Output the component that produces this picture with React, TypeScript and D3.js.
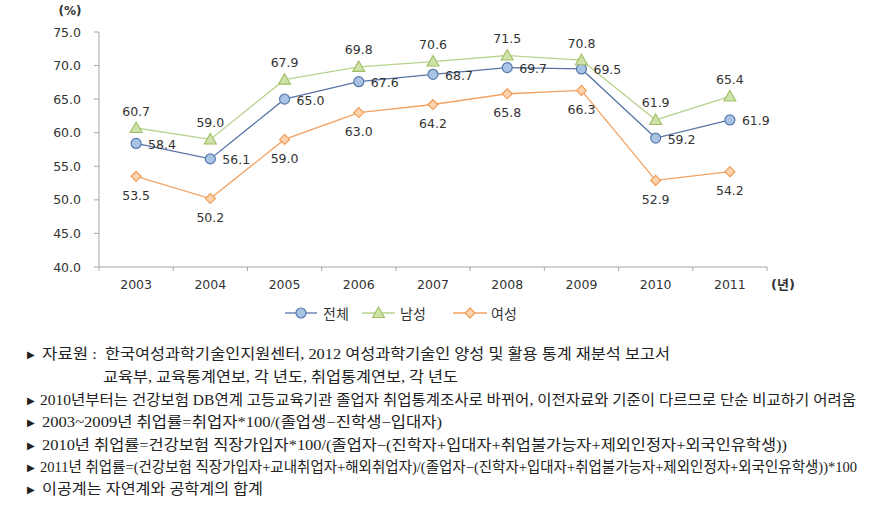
import React from "react";
import * as d3 from "d3";

const years = ["2003", "2004", "2005", "2006", "2007", "2008", "2009", "2010", "2011"];
const total = [58.4, 56.1, 65.0, 67.6, 68.7, 69.7, 69.5, 59.2, 61.9];
const male = [60.7, 59.0, 67.9, 69.8, 70.6, 71.5, 70.8, 61.9, 65.4];
const female = [53.5, 50.2, 59.0, 63.0, 64.2, 65.8, 66.3, 52.9, 54.2];
const yTicks = [40, 45, 50, 55, 60, 65, 70, 75];
const seriesNames = ["전체", "남성", "여성"];

const noteSourceLabel = "자료원 :";
const notes = [
  "한국여성과학기술인지원센터, 2012 여성과학기술인 양성 및 활용 통계 재분석 보고서",
  "교육부, 교육통계연보, 각 년도, 취업통계연보, 각 년도",
  "2010년부터는 건강보험 DB연계 고등교육기관 졸업자 취업통계조사로 바뀌어, 이전자료와 기준이 다르므로 단순 비교하기 어려움",
  "2003~2009년 취업률=취업자*100/(졸업생−진학생−입대자)",
  "2010년 취업률=건강보험 직장가입자*100/(졸업자−(진학자+입대자+취업불가능자+제외인정자+외국인유학생))",
  "2011년 취업률=(건강보험 직장가입자+교내취업자+해외취업자)/(졸업자−(진학자+입대자+취업불가능자+제외인정자+외국인유학생))*100",
  "이공계는 자연계와 공학계의 합계",
];

const W = 873;
const H = 511;
const sans = "'DejaVu Sans', 'Noto Sans CJK KR', sans-serif";
const serif = "'Liberation Serif', 'Noto Sans CJK KR', serif";

const styles = [
  { line: "#5873a8", fill: "#a9c3e3", stroke: "#5679ad", shape: "circle", lab: "right" },
  { line: "#b9d38f", fill: "#cfe2a9", stroke: "#9fbf63", shape: "triangle", lab: "above" },
  { line: "#f2a262", fill: "#fcd3ae", stroke: "#f0964c", shape: "diamond", lab: "below" },
];

function Marker({ shape, x, y, fill, stroke }: any) {
  if (shape === "circle") return <circle cx={x} cy={y} r={5} fill={fill} stroke={stroke} strokeWidth={1.2} />;
  if (shape === "triangle")
    return <path d={`M${x},${y - 6}L${x + 6},${y + 4.5}L${x - 6},${y + 4.5}Z`} fill={fill} stroke={stroke} strokeWidth={1.1} />;
  return <path d={`M${x},${y - 5}L${x + 5},${y}L${x},${y + 5}L${x - 5},${y}Z`} fill={fill} stroke={stroke} strokeWidth={1.1} />;
}

export default function App() {
  const x = d3.scaleBand<string>().domain(years).range([99, 767]).padding(0);
  const y = d3.scaleLinear().domain([40, 75]).range([267, 32]);
  const cx = (yr: string) => (x(yr) as number) + x.bandwidth() / 2;
  const data = [total, male, female];
  const line = d3
    .line<number>()
    .x((_, i) => cx(years[i]))
    .y((d) => y(d));

  const noteYs = [354, 377, 400, 422, 445, 467, 489];
  const noteX = [[105, 670], [103, 458], [40, 856], [42, 442], [42, 787], [40, 857], [42, 263]];
  const bullets = [0, 2, 3, 4, 5, 6];

  const legendItems = [
    { x0: 285, x1: 317, tx: 323 },
    { x0: 362, x1: 395, tx: 400 },
    { x0: 453, x1: 487, tx: 491 },
  ];

  return (
    <svg width={W} height={H} style={{ display: "block", position: "absolute", left: 0, top: 0, background: "#fff" }}>
      <rect width={W} height={H} fill="#fff" />
      {/* y axis */}
      <line x1={99} x2={99} y1={y(75)} y2={y(40)} stroke="#a6a6a6" />
      {yTicks.map((t) => (
        <g key={t}>
          <line x1={94} x2={99} y1={y(t)} y2={y(t)} stroke="#a6a6a6" />
          <text x={81} y={y(t)} textAnchor="end" dominantBaseline="central" fontFamily={sans} fontSize={12.5} fill="#333">
            {t.toFixed(1)}
          </text>
        </g>
      ))}
      <text x={70} y={11} textAnchor="middle" dominantBaseline="central" fontFamily={sans} fontSize={12} fontWeight="bold" fill="#333">
        (%)
      </text>
      {/* x axis */}
      <line x1={99} x2={767} y1={y(40)} y2={y(40)} stroke="#a6a6a6" />
      {years.map((yr) => (
        <line key={"t" + yr} x1={x(yr) as number} x2={x(yr) as number} y1={y(40)} y2={y(40) + 4} stroke="#a6a6a6" />
      ))}
      <line x1={767} x2={767} y1={y(40)} y2={y(40) + 4} stroke="#a6a6a6" />
      {years.map((yr) => (
        <text key={yr} x={cx(yr)} y={284} textAnchor="middle" dominantBaseline="central" fontFamily={sans} fontSize={12.5} fill="#333">
          {yr}
        </text>
      ))}
      <text x={783} y={284} textAnchor="middle" dominantBaseline="central" fontFamily={sans} fontSize={13} fontWeight="bold" fill="#333">
        (년)
      </text>
      {/* series */}
      {data.map((vals, si) => (
        <path key={"l" + si} d={line(vals) as string} fill="none" stroke={styles[si].line} strokeWidth={1.3} />
      ))}
      {data.map((vals, si) =>
        vals.map((v, i) => (
          <Marker key={"m" + si + i} shape={styles[si].shape} x={cx(years[i])} y={y(v)} fill={styles[si].fill} stroke={styles[si].stroke} />
        ))
      )}
      {data.map((vals, si) =>
        vals.map((v, i) => {
          const s = styles[si];
          const px = cx(years[i]);
          const py = y(v);
          const lx = s.lab === "right" ? px + 12 : px;
          const ly = s.lab === "above" ? py - 17 : s.lab === "below" ? py + 19 : py + 1;
          return (
            <text
              key={"v" + si + i}
              x={lx}
              y={ly}
              textAnchor={s.lab === "right" ? "start" : "middle"}
              dominantBaseline="central"
              fontFamily={sans}
              fontSize={12.5}
              fill="#333"
            >
              {v.toFixed(1)}
            </text>
          );
        })
      )}
      {/* legend */}
      {legendItems.map((it, si) => (
        <g key={"lg" + si}>
          <line x1={it.x0} x2={it.x1} y1={313} y2={313} stroke={styles[si].line} strokeWidth={1.3} />
          <Marker shape={styles[si].shape} x={(it.x0 + it.x1) / 2} y={313} fill={styles[si].fill} stroke={styles[si].stroke} />
          <text x={it.tx} y={313} dominantBaseline="central" fontFamily="'Noto Sans CJK KR', sans-serif" fontSize={14} fill="#333">
            {seriesNames[si]}
          </text>
        </g>
      ))}
      {/* notes */}
      {bullets.map((bi) => (
        <text key={"b" + bi} x={27} y={noteYs[bi]} dominantBaseline="central" fontFamily={sans} fontSize={10} fill="#222">
          ▶
        </text>
      ))}
      <text x={42} y={noteYs[0]} dominantBaseline="central" fontFamily={serif} fontSize={14.5} fill="#222" textLength={55} lengthAdjust="spacingAndGlyphs">
        {noteSourceLabel}
      </text>
      {notes.map((n, i) => (
        <text
          key={"n" + i}
          x={noteX[i][0]}
          y={noteYs[i]}
          dominantBaseline="central"
          fontFamily={serif}
          fontSize={14.5}
          fill="#222"
          textLength={noteX[i][1] - noteX[i][0]}
          lengthAdjust="spacingAndGlyphs"
        >
          {n}
        </text>
      ))}
    </svg>
  );
}
